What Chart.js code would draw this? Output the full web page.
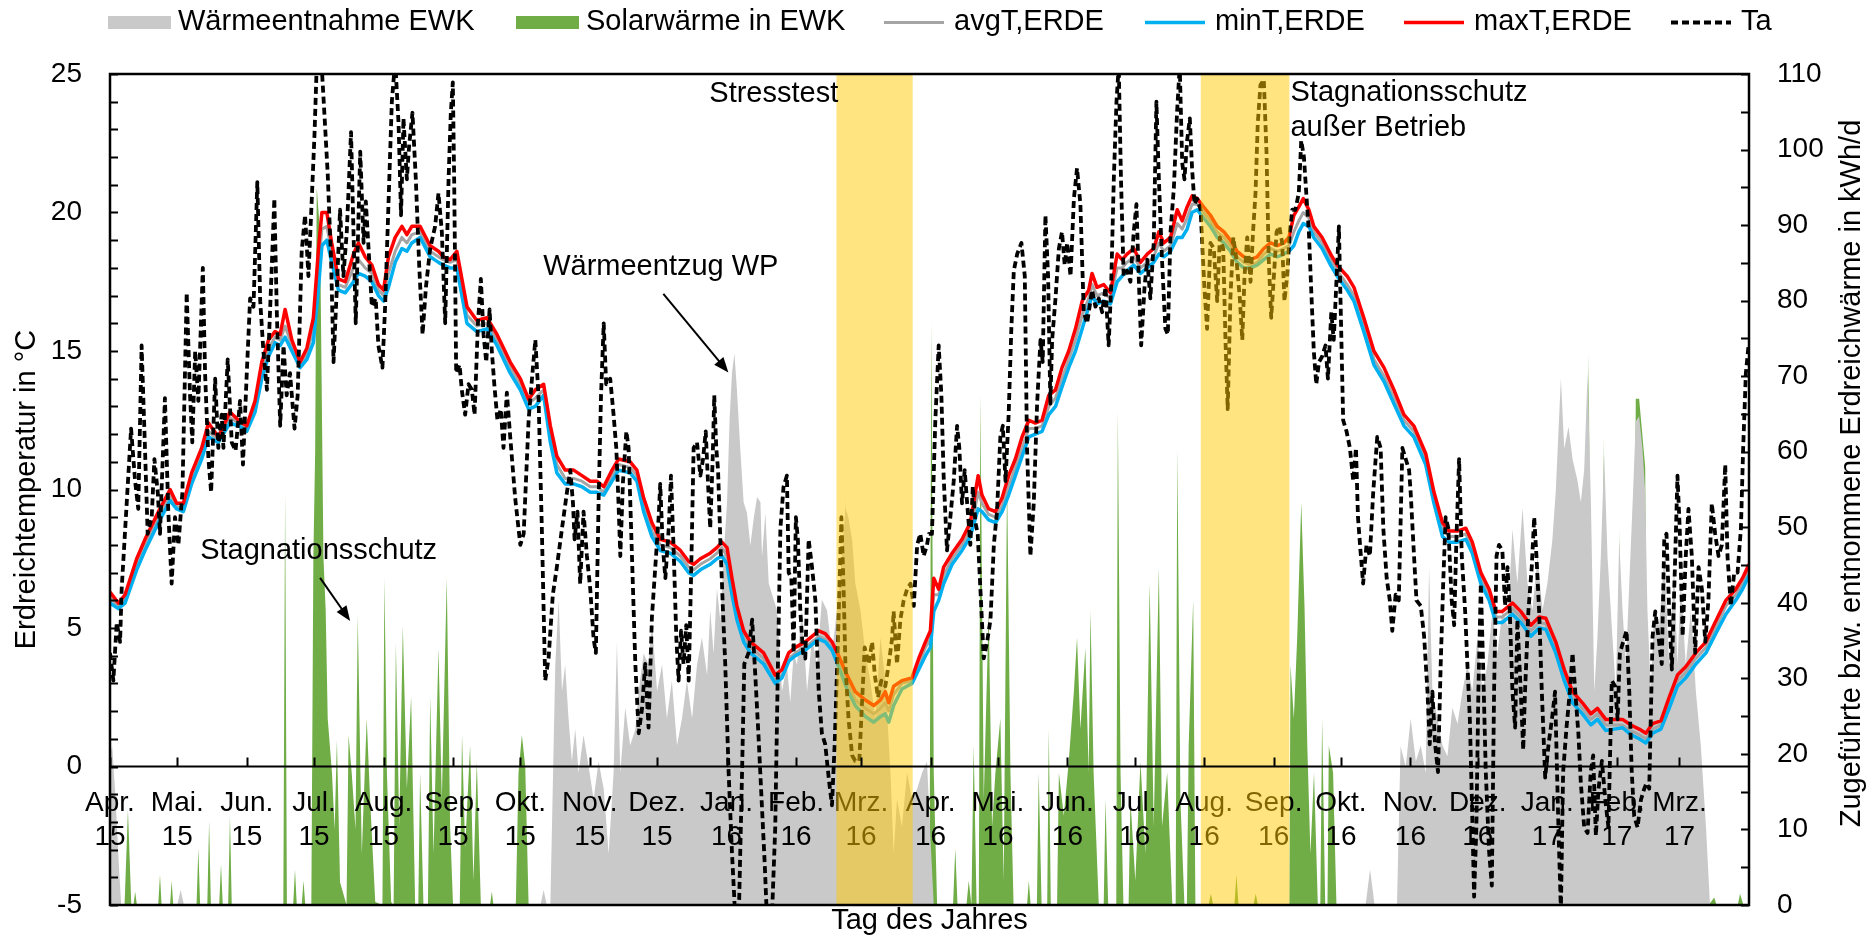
<!DOCTYPE html>
<html lang="de">
<head>
<meta charset="utf-8">
<title>Erdreichtemperatur und Erdreichwärme</title>
<script src="https://cdn.jsdelivr.net/npm/chart.js@4.4.1/dist/chart.umd.min.js"></script>
<style>
  html, body { margin: 0; padding: 0; background: #fff; }
  canvas { display: block; }
</style>
</head>
<body>
<canvas id="chart" width="1871" height="936"></canvas>
<script>
// x values are days counted from 1 April 2015
const dayRange = [0, 731];
const monthStarts = [0,30,61,91,122,153,183,214,244,275,306,335,366,396,427,457,488,519,549,580,610,641,672,700];
const monthNames = ['Apr.','Mai.','Jun.','Jul.','Aug.','Sep.','Okt.','Nov.','Dez.','Jan.','Feb.','Mrz.',
                    'Apr.','Mai.','Jun.','Jul.','Aug.','Sep.','Okt.','Nov.','Dez.','Jan.','Feb.','Mrz.'];
const monthYears = ['15','15','15','15','15','15','15','15','15','16','16','16',
                    '16','16','16','16','16','16','16','16','16','17','17','17'];
const tempTicks = [-5, 0, 5, 10, 15, 20, 25];
const energyTicks = [0, 10, 20, 30, 40, 50, 60, 70, 80, 90, 100, 110];
const highlightPeriods = [[324, 358], [486.5, 526]];

// soil temperatures (°C)
const soilDays = [
  0,3.7,6.7,11.9,15.6,21.6,26.8,29.7,32.7,36.4,
  40.9,43.9,48.3,53.5,57.3,61,64.7,67.7,70.7,73.6,
  75.9,78.1,81.1,84.8,87.8,90.7,93,94.5,96.7,98.9,
  101.9,104.9,108.6,110.8,113.8,116.8,119.7,122,124.2,127.2,
  130.2,132.4,134.6,138.3,142.8,146.5,148.7,151.7,154.7,159.2,
  163.6,168.1,172.6,178.5,183,186.7,189.7,193.4,196.4,199.3,
  203,206.8,210.5,214.2,217.2,220.2,223.9,226.8,232,235,
  238,241.7,245.4,249.9,254.4,258.1,260.3,263.3,267.7,270.7,
  272.9,275.2,277.4,279.6,282.6,285.6,288.6,291.5,296.7,299.7,
  302.7,305.7,310.1,313.1,316.1,319,322,325,328.7,332.4,
  336.9,340.6,343.6,345.8,347.3,349.5,353.2,357.7,360.7,363.7,
  365.9,367.4,369.6,371.8,375.6,380,383.7,387.2,388.9,391.9,
  394.9,397.9,400.8,403.8,406.8,409.8,412.7,415.7,418.7,421.7,
  424.6,427.6,430.6,433.6,436.5,438,440.2,443.2,446.2,449.2,
  451.4,453.6,456.6,459.6,462.6,465.5,467.8,470,473,476,
  478.2,480.4,482.6,484.9,487.8,490.8,493.8,496.8,499.7,502.7,
  505.7,508.7,511.6,514.6,517.6,520.6,523.5,525.8,528,530.2,
  532.2,534.7,536.9,540.6,544.4,547.3,551.8,554.8,559.2,563.7,
  568.2,572.6,577.1,581.5,586.8,590.5,594.3,597.2,600.9,604.7,
  607.6,611.4,615.1,618.1,621,625.5,629.2,633.7,637.4,640.4,
  644.8,648.6,652.3,656.7,660.5,663.4,667.1,670.9,674.6,678.3,
  682,685,688,691.7,695.4,699.1,702.8,707.3,711.8,716.2,
  720.7,725.1,728.1,731
];
const soilMax = [
  6.3,5.9,6.2,7.5,8.2,9.2,10.0,9.5,9.5,10.6,
  11.5,12.4,11.9,12.8,12.5,12.3,13.2,14.6,15.4,15.7,
  15.6,16.5,15.4,14.6,15.1,16.2,18.7,20.0,20.0,18.9,
  17.6,17.5,18.5,18.9,18.4,18.1,17.4,17.2,18.4,19.1,
  19.5,19.2,19.5,19.5,18.8,18.6,18.4,18.3,18.6,16.6,
  16.1,16.2,15.6,14.6,14.0,13.25,13.6,13.8,12.3,11.2,
  10.7,10.7,10.5,10.3,10.3,10.1,10.7,11.1,11.0,10.7,
  9.7,8.8,8.2,8.1,7.8,7.4,7.3,7.5,7.7,7.9,
  8.1,7.9,6.8,5.8,4.9,4.5,4.3,4.1,3.3,3.5,
  4.1,4.3,4.5,4.7,4.9,4.8,4.5,4.0,3.3,2.7,
  2.4,2.2,2.4,2.7,2.3,2.9,3.1,3.2,3.9,4.5,
  4.9,6.8,6.4,7.2,7.7,8.2,8.8,10.5,9.8,9.3,
  9.2,9.7,10.5,11.1,11.9,12.5,12.4,12.5,13.4,13.6,
  14.4,15.0,15.8,16.8,17.2,17.8,17.3,17.4,17.1,18.5,
  18.3,18.5,18.7,18.2,18.5,18.7,19.3,18.9,19.1,20.1,
  19.7,20.2,20.6,20.5,20.2,19.9,19.5,19.3,19.0,18.6,
  18.4,18.3,18.4,18.7,18.9,18.8,18.9,19.1,19.9,20.2,
  20.5,20.1,19.5,19.1,18.5,18.1,17.7,17.3,16.2,15.0,
  14.4,13.6,12.7,12.3,11.3,9.9,8.8,8.5,8.5,8.6,
  8.1,7.0,6.4,5.6,5.6,5.9,5.6,5.1,5.4,5.35,
  4.5,3.5,2.7,2.3,1.9,2.1,1.7,1.7,1.7,1.5,
  1.35,1.2,1.55,1.65,2.5,3.3,3.6,4.1,4.5,5.25,
  6.0,6.4,6.8,7.3
];
const soilAvg = [
  6.1,5.8,6.0,7.3,8.0,9.0,9.8,9.4,9.3,10.4,
  11.3,12.1,11.8,12.6,12.4,12.2,13.0,14.3,15.1,15.5,
  15.4,15.9,15.2,14.5,14.9,15.8,18.0,19.4,19.5,18.6,
  17.4,17.3,18.0,18.3,18.0,17.8,17.2,17.0,17.8,18.6,
  19.1,18.9,19.2,19.3,18.6,18.4,18.3,18.2,18.3,16.3,
  15.9,16.0,15.4,14.4,13.8,13.1,13.3,13.6,12.0,10.9,
  10.4,10.4,10.3,10.1,10.1,9.9,10.5,10.9,10.8,10.5,
  9.5,8.5,8.0,7.9,7.6,7.2,7.1,7.3,7.5,7.7,
  7.9,7.6,6.5,5.6,4.7,4.3,4.1,3.9,3.1,3.3,
  3.9,4.1,4.3,4.5,4.7,4.6,4.3,3.8,3.1,2.4,
  2.1,1.9,2.1,2.3,2.0,2.6,3.0,3.1,3.7,4.3,
  4.6,6.2,6.2,6.9,7.5,8.0,8.5,9.9,9.5,9.1,
  9.0,9.4,10.1,10.8,11.5,12.2,12.2,12.3,13.0,13.3,
  14.0,14.7,15.4,16.3,16.9,17.4,17.0,17.1,16.9,18.0,
  18.0,18.2,18.4,18.0,18.2,18.4,18.9,18.6,18.8,19.6,
  19.4,19.8,20.3,20.3,20.0,19.7,19.3,19.1,18.8,18.4,
  18.2,18.1,18.2,18.5,18.7,18.6,18.7,18.8,19.3,19.7,
  20.0,19.8,19.3,18.9,18.3,17.9,17.4,17.0,15.9,14.7,
  14.1,13.3,12.5,12.1,11.1,9.7,8.6,8.3,8.3,8.4,
  7.9,6.8,6.2,5.4,5.4,5.7,5.4,4.9,5.2,5.15,
  4.3,3.3,2.5,2.1,1.7,1.9,1.5,1.5,1.5,1.3,
  1.15,1.0,1.35,1.5,2.3,3.1,3.4,3.9,4.3,5.0,
  5.8,6.2,6.6,7.1
];
const soilMin = [
  5.9,5.7,5.9,7.1,7.8,8.8,9.6,9.3,9.2,10.2,
  11.1,11.9,11.7,12.4,12.3,12.1,12.8,14.0,14.8,15.3,
  15.2,15.5,15.0,14.4,14.7,15.3,17.3,18.8,19.0,18.2,
  17.2,17.1,17.5,17.8,17.7,17.5,17.0,16.8,17.3,18.2,
  18.7,18.6,18.9,19.1,18.4,18.2,18.1,18.0,18.0,16.0,
  15.7,15.8,15.2,14.2,13.6,12.9,13.0,13.4,11.7,10.6,
  10.2,10.2,10.1,9.9,9.9,9.8,10.3,10.7,10.6,10.3,
  9.2,8.3,7.8,7.7,7.4,7.0,6.9,7.1,7.3,7.5,
  7.6,7.3,6.2,5.3,4.5,4.1,3.9,3.7,3.0,3.2,
  3.8,4.0,4.2,4.4,4.6,4.5,4.2,3.6,2.8,2.2,
  1.8,1.6,1.8,1.9,1.6,2.2,2.8,3.0,3.5,4.0,
  4.3,5.6,6.0,6.6,7.3,7.8,8.3,9.3,9.2,8.9,
  8.8,9.2,9.8,10.5,11.2,11.9,12.0,12.1,12.7,13.0,
  13.7,14.4,15.0,15.8,16.6,17.0,16.7,16.8,16.7,17.5,
  17.7,17.9,18.1,17.8,18.0,18.2,18.5,18.4,18.6,19.1,
  19.1,19.4,20.0,20.1,19.8,19.5,19.1,18.9,18.6,18.2,
  18.0,18.0,18.1,18.3,18.5,18.4,18.5,18.6,18.8,19.3,
  19.6,19.5,19.1,18.7,18.1,17.7,17.2,16.8,15.7,14.5,
  13.9,13.1,12.3,11.9,10.9,9.5,8.3,8.1,8.1,8.2,
  7.7,6.6,6.0,5.2,5.2,5.5,5.2,4.7,5.0,4.95,
  4.1,3.1,2.3,1.9,1.5,1.7,1.3,1.35,1.4,1.15,
  1.0,0.85,1.2,1.35,2.1,2.9,3.2,3.7,4.1,4.8,
  5.5,6.0,6.4,6.9
];

// outdoor air temperature Ta (°C), [day, value]
const airTemp = [
  [0,4.1],[1.5,3.1],[3,5.2],[4.5,4.5],[5.2,6.4],[9.4,12.2],[11.2,10.3],[12.6,9.3],[14.1,15.2],[15.6,11.5],
  [16.8,8.4],[18.6,9.0],[19.8,11.1],[21.3,9.9],[22.3,8.4],[24.5,13.3],[26,9.2],[27.5,6.6],[29,9.0],[30.5,8.0],
  [32.3,9.9],[34.2,17.1],[35.7,13.4],[36.7,11.7],[38,15.0],[39.4,13.2],[41.4,18.0],[42.4,14.2],[43.9,11.1],[45.1,9.9],
  [46.9,14.0],[48.3,11.5],[49.8,12.7],[50.6,11.5],[52.5,14.7],[54.3,11.7],[56,11.4],[58,13.2],[59.3,10.9],[61,14.2],
  [62.5,16.9],[64,16.6],[65.7,21.1],[67,16.8],[68.4,15.0],[70,13.6],[71.8,17.3],[73.3,20.5],[74.4,16.4],[75.9,12.3],
  [77.4,15.2],[78.8,13.4],[80.3,14.2],[82.3,12.2],[83.7,13.4],[85.5,18.6],[87,19.9],[88.5,17.7],[90,20.5],[91.2,22.8],
  [92.2,25.3],[94.2,25.6],[95.6,23.6],[97.1,21.4],[98.6,18.3],[99.7,14.6],[101.2,17.3],[102.6,20.1],[104.1,17.7],[105.6,19.3],
  [107.5,22.9],[108.6,19.3],[109.6,16.0],[111.6,22.2],[113.1,18.9],[114.1,20.4],[115.6,18.3],[116.8,16.6],[118.5,16.9],[119.7,15.2],
  [121.5,14.4],[122.7,16.6],[124.2,20.3],[125.7,24.0],[127.2,25.5],[128.7,23.2],[129.8,19.9],[130.9,23.4],[132.4,21.2],[133.4,22.4],
  [134.9,23.6],[136.4,21.2],[137.9,18.1],[139.4,15.6],[140.9,17.3],[142.8,18.7],[145,19.5],[146.5,20.7],[148,19.3],[149.5,16.0],
  [151,21.2],[152,23.6],[152.9,24.7],[153.5,21.2],[154.4,14.2],[155.9,14.5],[156.9,13.6],[158.4,12.7],[159.9,13.8],[161.4,13.6],
  [162.6,12.7],[164.1,16.0],[165.4,17.6],[166.6,15.6],[167.8,14.6],[169.3,16.5],[170.3,15.0],[171.4,13.8],[172.8,12.5],[174.3,12.9],
  [175.5,11.5],[177,13.5],[178.5,11.9],[180.7,9.7],[183,8.0],[184.5,8.4],[186.7,12.5],[188.2,14.0],[189.7,15.4],[191.1,13.4],
  [192.6,8.6],[194.1,3.1],[195.6,3.9],[197.5,6.2],[199.3,7.2],[201.6,8.6],[203.8,9.9],[205.3,10.7],[206.5,9.5],[207.2,8.2],
  [208.5,9.2],[209.7,6.6],[211.2,9.2],[212.7,7.6],[214.2,6.4],[215.7,4.6],[216.7,4.1],[217.9,9.5],[219,13.4],[220.2,16.0],
  [221.3,13.8],[223.1,14.0],[224.6,12.7],[225.8,11.5],[226.8,9.5],[227.6,7.6],[228.8,10.3],[230.3,12.1],[231.3,11.5],[232.8,7.6],
  [234.3,3.7],[235.8,1.2],[237.3,2.1],[238.7,3.7],[240.2,1.4],[241.7,5.4],[243.2,7.2],[244.7,9.0],[245.4,10.2],[246.5,8.0],
  [247.7,6.8],[249.2,8.6],[250.2,10.5],[251.4,7.8],[252.6,4.6],[253.6,3.1],[254.7,4.9],[255.8,3.7],[257,5.1],[258.1,3.1],
  [259.1,6.6],[260.3,11.5],[261.8,11.7],[263.3,10.5],[264.5,11.1],[265.7,12.1],[266.9,9.9],[267.7,8.6],[268.8,11.1],[269.5,13.4],
  [270.4,11.5],[271.2,10.7],[272.2,8.2],[273.4,5.6],[274.4,3.7],[275.9,-0.2],[277.4,-3.1],[278.9,-5.5],[280.4,-5.6],[281.9,-0.2],
  [282.9,3.7],[284.8,4.1],[286.4,5.3],[287.8,3.3],[289.3,1.0],[290.8,-1.5],[292,-3.5],[293,-5.5],[295.2,-5.5],[296.7,-2.2],
  [297.9,3.7],[299,8.6],[300.4,10.1],[301.9,10.5],[302.7,7.0],[303.9,6.8],[304.9,4.1],[305.9,9.0],[306.8,8.2],[307.9,5.6],
  [309.1,4.1],[310.1,3.9],[311.6,8.2],[313.1,7.2],[314.6,6.0],[316.1,2.7],[317.5,1.2],[319,0.8],[320.8,-0.6],[322,-1.4],
  [323.2,0.8],[324.7,4.6],[326.2,9.0],[327.2,6.4],[328,3.7],[329.4,1.7],[331,0.4],[332.4,0.2],[334.2,0.2],[335.4,2.3],
  [336.6,4.3],[338.4,3.7],[339.9,4.5],[341.1,3.3],[342.5,2.5],[344,3.1],[345.8,2.9],[347.3,3.7],[348.8,4.6],[349.5,5.6],
  [351,3.7],[352.5,5.3],[354,6.0],[355.5,6.4],[357,6.6],[358.5,5.8],[360,8.0],[361.4,8.4],[362.9,7.6],[364.4,8.0],
  [365.2,8.4],[366.6,8.4],[368.1,12.5],[369.6,15.2],[370.8,13.4],[371.8,10.5],[373.3,7.8],[374.8,9.0],[376.3,10.3],[377.8,12.3],
  [378.8,11.5],[380,9.5],[381.2,10.7],[382.3,9.5],[383.7,8.0],[384.8,10.1],[386,8.8],[387,8.4],[388.2,6.4],[389.7,3.9],
  [391.2,4.5],[392.7,5.3],[394.2,8.0],[395.6,9.2],[397.1,11.9],[398.2,12.3],[399.4,10.3],[400.8,12.7],[402,15.8],[403.1,17.9],
  [404.6,18.5],[406.5,18.9],[408,17.7],[409,11.5],[410.5,7.6],[412,9.5],[413.5,13.1],[415,15.4],[416,14.6],[417.2,19.9],
  [418.4,17.7],[419.4,13.1],[420.2,15.4],[421.7,16.9],[423.2,18.7],[424.6,19.3],[425.8,18.1],[426.9,18.9],[428.4,17.7],[429.9,20.5],
  [431.3,21.6],[432.8,20.3],[434.3,16.4],[435.8,16.0],[438,17.2],[439.5,16.6],[441,16.9],[442.5,16.4],[444,17.3],[445.4,15.2],
  [446.5,17.3],[447.7,21.2],[448.9,24.0],[449.9,25.3],[450.9,21.2],[452.1,17.7],[453.6,17.9],[455.1,17.5],[456.6,19.3],[457.8,20.3],
  [458.8,17.7],[459.9,15.2],[461.4,17.3],[462.6,18.3],[464,16.9],[465.5,18.9],[466.7,24.0],[467.8,21.2],[469.2,18.3],[470.7,15.8],
  [471.8,15.6],[473,19.3],[474.5,20.9],[475.9,23.6],[477.1,25.3],[478.2,21.8],[479.2,21.2],[480.4,22.6],[481.6,23.4],[482.6,21.6],
  [483.7,20.3],[484.9,20.5],[486.4,20.1],[488.1,17.3],[489.3,15.8],[490.8,18.9],[492.3,18.7],[493.8,16.8],[495,19.1],[496.5,18.7],
  [497.5,15.4],[498.5,12.9],[499.7,16.9],[501,19.1],[502.4,18.3],[503.9,16.9],[505,15.4],[506,17.7],[507.2,19.1],[508.7,17.5],
  [509.8,19.3],[510.9,20.7],[511.9,23.2],[513.1,24.6],[514.6,24.8],[515.8,22.2],[516.8,18.3],[517.9,16.2],[519.1,17.7],[520.3,19.3],
  [521.5,19.5],[522.8,18.9],[523.8,16.8],[525,17.7],[526.2,19.3],[527.3,20.1],[528.7,20.1],[530.2,20.7],[531.3,22.6],[532.5,22.0],
  [533.7,20.5],[534.7,19.3],[535.7,17.3],[536.9,15.0],[538,13.8],[539.2,14.6],[540.6,14.8],[542.1,15.2],[543.2,14.0],[544.7,16.4],
  [545.8,15.4],[547.1,17.7],[548.1,19.5],[548.8,16.9],[550,12.5],[551.5,12.1],[553,11.5],[554.5,10.3],[555.7,11.5],[556.6,9.0],
  [557.7,7.8],[558.9,6.6],[560.4,8.0],[561.9,7.6],[563.4,9.9],[565.2,11.9],[566.7,11.5],[567.9,8.6],[569.4,6.8],[570.8,6.0],
  [571.9,4.9],[573.4,6.2],[574.8,6.0],[576.4,11.5],[577.9,11.1],[579.4,10.7],[580.1,9.9],[581.6,7.6],[582.7,6.0],[584.6,5.8],
  [586.1,4.7],[587.6,2.7],[588.6,0.8],[589.8,2.7],[591,0.8],[592.3,-0.2],[593.5,3.7],[594.6,6.6],[595.7,9.0],[596.9,8.6],
  [598.4,6.0],[599.5,5.1],[600.5,8.2],[601.7,11.1],[602.9,7.6],[604.4,5.6],[605.4,3.7],[606.5,1.7],[607.4,-1.2],[608.4,-4.7],
  [609.4,-2.2],[610.3,2.7],[611.4,6.6],[612.4,3.7],[613.6,-0.2],[615.1,-3.1],[616.3,-4.3],[617.3,2.7],[618.4,7.6],[619.5,8.0],
  [621,7.8],[622.2,5.8],[623.3,7.2],[624.3,5.6],[625.5,2.7],[626.7,1.4],[627.7,5.3],[629.2,2.7],[630.3,0.6],[631.1,2.7],
  [632.6,5.6],[634.1,7.2],[635.2,9.0],[636.2,7.6],[637.4,5.6],[638.6,2.7],[640.1,-0.4],[641.6,0.8],[643.1,1.7],[644.5,2.7],
  [646,-2.2],[647.1,-5.2],[648.1,-0.2],[649.6,1.4],[651.1,2.7],[652.3,4.1],[653.5,2.7],[654.9,1.2],[656,-0.6],[657.5,-2.2],
  [659,-2.4],[660.4,-0.2],[661.5,0.4],[662.7,-2.5],[663.9,-0.8],[665.4,0.2],[666.9,-1.2],[668.3,-2.2],[669.8,3.1],[671.3,2.9],
  [672.4,1.7],[673.4,4.1],[674.9,4.5],[676.4,4.9],[677.6,2.7],[678.7,-0.2],[679.8,-1.8],[681.3,-2.2],[682.8,-1.2],[684.3,-0.8],
  [685.3,-0.6],[686.5,-0.8],[688,4.7],[689.2,5.6],[690.6,4.7],[692.1,3.7],[693.2,8.2],[694.2,8.4],[695.4,5.6],[696.6,3.5],
  [698.1,7.6],[699.1,10.5],[700.1,8.6],[701.4,4.7],[702.8,7.6],[704,9.3],[705.5,7.6],[707,4.1],[708.5,7.2],[710,6.4],
  [711.5,4.5],[712.9,6.0],[714.4,9.5],[715.9,8.4],[717.4,7.6],[718.9,8.0],[720.4,10.9],[721.4,7.6],[722.9,5.8],[724.4,7.0],
  [725.9,7.0],[727.4,8.6],[728.4,11.5],[729.6,14.2],[730.8,15.2]
];

// heat taken from the ground loop (kWh/d), [day, value]
const heatExtracted = [
  [0,20],[1,21],[2.5,14],[4,5],[5,0],[30,0],[31.5,2],[33,0],[192,0],[193.4,2],[194.8,0],[196.4,0],
  [198.6,31.8],[200.1,40.4],[201.6,28.3],[203,31.8],[204.5,24.7],[206,19],[207.5,23.3],[209,17.5],[211.2,22.5],[213.5,18.3],
  [215.7,14],[217.9,19],[220.2,15.4],[222.4,6.8],[224.6,17.5],[226.1,34.7],[227.6,17.5],[229.8,26.1],[232,21.1],[234.3,23.3],
  [235.8,28.3],[238,33.3],[240.2,31.8],[241.7,37.6],[244,28.3],[246.2,31.8],[248.4,24.7],[250.6,29.7],[252.9,21.1],[255.1,24.7],
  [257.3,29.7],[259.6,24.7],[261.8,31.8],[264,35.4],[266.3,30.4],[267.7,39],[269.2,33.3],[270.7,41.9],[272.2,37.6],[273.7,46.1],
  [275.2,53.3],[276.4,64.7],[277.4,70.4],[278.5,73],[279.6,68.3],[281.1,60.4],[282.6,53.3],[284.1,51.9],[285.6,47.6],[287.1,51.2],
  [288.6,54],[290.1,53.3],[290.8,46.1],[292.3,51.9],[293.8,42.6],[296,40.4],[297.5,39],[299.7,28.3],[301.9,31.8],[303.4,26.8],
  [304.9,33.3],[306.4,31.8],[308.6,39],[310.9,28.3],[313.1,35.4],[315.3,31.8],[317.5,40.4],[319.8,39],[322,33.3],[324.2,39],
  [326.5,46.1],[328,52.6],[329.4,51.2],[331,48.3],[332.4,42.6],[334.7,39],[336.9,33.3],[339.1,29.7],[341.4,24.7],[343.6,35.4],
  [345.8,29.7],[348.1,17.5],[349.5,6.8],[351,14],[353.2,10.4],[355.5,17.5],[357.7,14],[360,15.4],[362.2,17.5],[364.4,19],
  [365.9,9],[367.4,0],[560,0],[562,4.7],[564,0],[574,0],[575.6,21],
  [577.9,18.3],[580.1,24.7],[582.4,19],[584.6,21.1],[586.8,17.5],[588.3,44.7],[589.8,28.3],[592,24.7],[594.3,21.1],[596.5,19.7],
  [598.7,26.1],[601,24],[603.2,28.3],[605.4,31.8],[607.6,28.3],[609.9,35.4],[612.1,28.3],[614.3,31.8],[616.6,39],[618.8,33.3],
  [621,39],[623.3,36.9],[625.5,49.7],[627.7,42.6],[630,52.6],[632.2,42.6],[634.4,39],[636.7,46.1],[638.9,39],[641.1,42.6],
  [643.3,48.3],[644.8,54.7],[647.1,69.7],[648.6,60.4],[650.5,63.3],[652.3,59],[654.5,56.2],[656,53.3],[657.5,57.6],[659,70.5],
  [660.5,53.3],[662,28.3],[663.4,35.4],[664.9,46.1],[666.4,59.7],[667.9,46.1],[670.1,35.4],[671.6,28.3],[673.1,48.3],[674.6,39],
  [676.1,31.8],[677.6,42.6],[679.1,53.3],[680.5,64],[682,64.7],[683.5,60.4],[684.7,54.7],[685.7,39],[687.2,28.3],[688.7,39],
  [690.9,36.9],[693.2,46.1],[695.4,31.8],[697.6,44.7],[699.1,31.8],[700.6,42.6],[702.8,31.8],[705.1,39],[707.3,28.3],[709.5,21.1],
  [711.8,10.4],[713.6,0],[731,0]
];

// solar heat fed into the ground loop (kWh/d), [day, value]
const solarHeat = [
  [0,0],[6.5,0],[8,12.6],[9.5,0],[10.5,0],[11.2,1.8],[12,0],[21.5,0],[22.3,4],[23,0],[26.8,0],[27.5,3.2],[28.2,0],
  [38.6,0],[39.4,7.5],[40.2,0],[43.4,0],[44.2,11.1],[45,0],[48.7,0],[49.5,5.4],[50.3,0],[52.7,0],[53.5,11.8],[54.3,0],
  [77.3,0],[78.1,54.7],[78.9,0],[81.7,0],[82.5,4.7],[83.3,0],[85.5,0],[86.3,3.2],[87.1,0],[89.8,0],[90.7,46],[91.5,60],
  [92.2,95],[93.7,89],[95.2,46],[96.2,39],[97.1,24.7],[99,17.5],[100.2,10],[101.2,21.8],[102.6,3],[105.5,0],[106.4,22.5],
  [107.8,17.5],[109.5,10],[110.5,38.3],[112.3,6.8],[114.5,24.7],[116,14],[118.3,0.4],[121.5,0],[122.4,43.3],[123.5,17.5],
  [125.4,0.4],[126.5,0],[127.5,34.7],[129,10.4],[130.6,36.9],[132.4,15.4],[134.3,27.6],[136.1,0],[137.5,0],[138.3,17.5],
  [139.8,0],[141.8,0],[142.8,27.6],[144.3,6.8],[146.5,34],[148,14],[150.2,43.3],[151.7,10.4],[153,0],[156,0],[157,22.5],
  [158.4,7.5],[160.6,21.1],[162.1,3.2],[163.6,19],[165.4,0],[169.5,0],[170.3,1.8],[171,0],[181,0],[182.2,17.5],[183.7,22.5],
  [185.2,18.3],[186.7,0],[327,0],[328.2,54],[329.5,0],[365.5,0],[366.3,77],[367.4,17.5],[368.9,0],[376,0],[377,7.5],[378,0],
  [382,0],[383,3.2],[384.2,0],[385.2,21.1],[386.5,0],[387.5,0],[388.2,67.6],[389.7,14],[391.9,39],[393.4,10.4],[394.9,17.5],
  [397.1,24.7],[398.6,3.2],[400.1,56.2],[401.6,17.5],[403,0],[409,0],[409.8,3.2],[410.6,0],[413.4,0],[414.2,17.5],[415.5,0],
  [418,0],[418.7,23.3],[419.6,0],[422.4,0],[423.2,17.5],[425.4,11.8],[427.6,19],[429.9,28.3],[431.3,35.4],[432.8,23.3],
  [435,34],[436.5,17.5],[437.3,39],[438.7,17.5],[441,0],[443.2,0],[444,14],[445.2,0],[448.8,0],[449.5,65.5],[450.7,17.5],
  [452,0],[454.3,0],[455.1,14],[457.3,3.2],[459.6,19],[461.8,6.8],[463.7,42.6],[465.5,10.4],[467.8,44.7],[469.2,10.4],
  [471.5,17.5],[473.8,0],[475.3,0],[476,60.4],[477.4,14],[479.2,0],[480.3,0],[481.1,21.1],[483.1,40.4],[484.1,0],
  [490,0],[491,1.5],[492,0],[501.5,0],[502.4,4],[503.3,0],[510,0],[511,1.5],[512,0],
  [526,0],[526.5,31.8],[528,24.7],[529.5,35.4],[531.3,53.3],[532.8,39],[534,21.1],[535.4,6.8],[537,17.5],[538.7,0],
  [539.8,0],[540.6,24.7],[542,0],[543,0],[543.6,21.1],[545.5,17.5],[547,0],
  [657.5,0],[659.5,73],[661,0],[665,0],[666.2,62],[667.4,0],[672.3,0],[673.1,50],[674,0],[679,0],[680.5,67],[682,67],
  [684.7,58],[686,0],[713,0],[715.5,1],[716.5,0],[726,0],[727,1.5],[728.5,0],[731,0]
];

const toXY = pairs => pairs.map(([x, y]) => ({ x, y }));
const zipDays = values => values.map((y, i) => ({ x: soilDays[i], y }));

const FONT = '"Liberation Sans", Arial, Helvetica, sans-serif';
const legendX = [108, 516, 884, 1145, 1404, 1671];

// text notes placed in data coordinates (day, kWh/d)
const notes = [
  { text: 'Stagnationsschutz', day: 40.2, q: 46.9, align: 'left' },
  { text: 'Wärmeentzug WP', day: 193.2, q: 84.4, align: 'left' },
  { text: 'Stresstest', day: 324.8, q: 107.4, align: 'right' },
  { text: 'Stagnationsschutz', day: 526.5, q: 107.5, align: 'left' },
  { text: 'außer Betrieb', day: 526.5, q: 102.9, align: 'left' }
];
const arrows = [
  { from: [93.7, 43.3], to: [107.1, 37.6] },
  { from: [246.8, 80.9], to: [275.8, 70.5] }
];

function drawArrow(ctx, x1, y1, x2, y2) {
  const a = Math.atan2(y2 - y1, x2 - x1);
  const L = 15, W = 6;
  ctx.beginPath();
  ctx.moveTo(x1, y1);
  ctx.lineTo(x2 - (L - 2) * Math.cos(a), y2 - (L - 2) * Math.sin(a));
  ctx.stroke();
  ctx.beginPath();
  ctx.moveTo(x2, y2);
  ctx.lineTo(x2 - L * Math.cos(a) + W * Math.sin(a), y2 - L * Math.sin(a) - W * Math.cos(a));
  ctx.lineTo(x2 - L * Math.cos(a) - W * Math.sin(a), y2 - L * Math.sin(a) + W * Math.cos(a));
  ctx.closePath();
  ctx.fill();
}

const framePlugin = {
  id: 'frame',
  afterDatasetsDraw(chart) {
    const { ctx, chartArea: a, scales } = chart;
    const x = scales.x, yT = scales.yT, yQ = scales.yQ;
    const y0 = yT.getPixelForValue(0);
    ctx.save();

    // month labels below the 0 °C line
    ctx.fillStyle = '#000';
    ctx.font = `28px ${FONT}`;
    ctx.textAlign = 'center';
    ctx.textBaseline = 'middle';
    monthStarts.forEach((d, i) => {
      const px = x.getPixelForValue(d);
      ctx.fillText(monthNames[i], px, y0 + 37);
      ctx.fillText(monthYears[i], px, y0 + 71);
    });

    // highlighted periods
    ctx.fillStyle = 'rgba(255, 201, 0, 0.5)';
    highlightPeriods.forEach(([s, e]) => {
      const x1 = x.getPixelForValue(s), x2 = x.getPixelForValue(e);
      ctx.fillRect(x1, a.top, x2 - x1, a.bottom - a.top);
    });

    // 0 °C axis line with month tick marks
    ctx.strokeStyle = '#000';
    ctx.lineWidth = 2;
    ctx.beginPath();
    ctx.moveTo(a.left, y0);
    ctx.lineTo(a.right, y0);
    monthStarts.forEach(d => {
      const px = Math.round(x.getPixelForValue(d)) + 0.5;
      ctx.moveTo(px, y0);
      ctx.lineTo(px, y0 - 9);
    });
    ctx.stroke();

    // inward ticks: 1 °C on the left, 5 kWh/d on the right
    ctx.beginPath();
    for (let v = yT.min; v <= yT.max; v += 1) {
      const py = Math.round(yT.getPixelForValue(v)) + 0.5;
      ctx.moveTo(a.left, py);
      ctx.lineTo(a.left + 8, py);
    }
    for (let v = yQ.min; v <= yQ.max; v += 5) {
      const py = Math.round(yQ.getPixelForValue(v)) + 0.5;
      ctx.moveTo(a.right, py);
      ctx.lineTo(a.right - 8, py);
    }
    ctx.stroke();

    // plot frame
    ctx.lineWidth = 2.5;
    ctx.strokeRect(a.left, a.top, a.right - a.left, a.bottom - a.top);
    ctx.restore();
  },
  afterDraw(chart) {
    const { ctx, chartArea: a, scales } = chart;
    const x = scales.x, yT = scales.yT, yQ = scales.yQ;
    ctx.save();
    ctx.fillStyle = '#000';
    ctx.strokeStyle = '#000';

    // tick numbers
    ctx.font = `28px ${FONT}`;
    ctx.textBaseline = 'middle';
    ctx.textAlign = 'right';
    tempTicks.forEach(v => ctx.fillText(String(v), a.left - 28, yT.getPixelForValue(v)));
    ctx.textAlign = 'left';
    energyTicks.forEach(v => ctx.fillText(String(v), a.right + 28, yQ.getPixelForValue(v)));

    // axis titles
    ctx.font = `29px ${FONT}`;
    ctx.textAlign = 'center';
    ctx.fillText('Tag des Jahres', (a.left + a.right) / 2, a.bottom + 16);
    ctx.save();
    ctx.translate(27, (a.top + a.bottom) / 2);
    ctx.rotate(-Math.PI / 2);
    ctx.fillText('Erdreichtemperatur in °C', 0, 0);
    ctx.restore();
    ctx.save();
    ctx.translate(1852, (a.top + a.bottom) / 2 - 16);
    ctx.rotate(-Math.PI / 2);
    ctx.fillText('Zugeführte bzw. entnommene Erdreichwärme in kWh/d', 0, 0);
    ctx.restore();

    // notes and arrows
    notes.forEach(n => {
      ctx.textAlign = n.align;
      ctx.fillText(n.text, x.getPixelForValue(n.day), yQ.getPixelForValue(n.q));
    });
    ctx.lineWidth = 2;
    arrows.forEach(ar => drawArrow(ctx,
      x.getPixelForValue(ar.from[0]), yQ.getPixelForValue(ar.from[1]),
      x.getPixelForValue(ar.to[0]), yQ.getPixelForValue(ar.to[1])));

    // legend
    const ly = 22;
    chart.data.datasets.forEach((ds, i) => {
      const sx = legendX[i];
      if (ds.fill) {
        ctx.fillStyle = ds.backgroundColor;
        ctx.fillRect(sx, ly - 6, 63, 13);
      } else {
        ctx.strokeStyle = ds.borderColor;
        ctx.lineWidth = ds.borderWidth;
        ctx.setLineDash(ds.borderDash || []);
        ctx.beginPath();
        ctx.moveTo(sx, ly + 0.5);
        ctx.lineTo(sx + 60, ly + 0.5);
        ctx.stroke();
        ctx.setLineDash([]);
      }
      ctx.fillStyle = '#000';
      ctx.textAlign = 'left';
      ctx.font = `29px ${FONT}`;
      ctx.fillText(ds.label, sx + 70, ly);
    });
    ctx.restore();
  }
};

new Chart(document.getElementById('chart'), {
  type: 'line',
  data: {
    datasets: [
      { label: 'Wärmeentnahme EWK', data: toXY(heatExtracted), yAxisID: 'yQ', order: 4,
        fill: 'origin', backgroundColor: '#C9C9C9', borderWidth: 0, pointRadius: 0 },
      { label: 'Solarwärme in EWK', data: toXY(solarHeat), yAxisID: 'yQ', order: 5,
        fill: 'origin', backgroundColor: '#70AD47', borderWidth: 0, pointRadius: 0 },
      { label: 'avgT,ERDE', data: zipDays(soilAvg), yAxisID: 'yT', order: 3,
        borderColor: '#A5A5A5', borderWidth: 3, pointRadius: 0, fill: false },
      { label: 'minT,ERDE', data: zipDays(soilMin), yAxisID: 'yT', order: 2,
        borderColor: '#00B0F0', borderWidth: 3.5, pointRadius: 0, fill: false },
      { label: 'maxT,ERDE', data: zipDays(soilMax), yAxisID: 'yT', order: 1,
        borderColor: '#FF0000', borderWidth: 3.5, pointRadius: 0, fill: false },
      { label: 'Ta', data: toXY(airTemp), yAxisID: 'yT', order: 0,
        borderColor: '#000000', borderWidth: 3.8, borderDash: [7, 4], pointRadius: 0, fill: false }
    ]
  },
  options: {
    responsive: false,
    animation: false,
    events: [],
    devicePixelRatio: 1,
    layout: { padding: { left: 110, top: 74, right: 122, bottom: 31 } },
    elements: { line: { tension: 0, borderJoinStyle: 'round' } },
    scales: {
      x: { type: 'linear', min: dayRange[0], max: dayRange[1], display: false },
      yT: { type: 'linear', position: 'left', min: -5, max: 25, display: false },
      yQ: { type: 'linear', position: 'right', min: 0, max: 110, display: false }
    },
    plugins: { legend: { display: false }, tooltip: { enabled: false } }
  },
  plugins: [framePlugin]
});
</script>
</body>
</html>
